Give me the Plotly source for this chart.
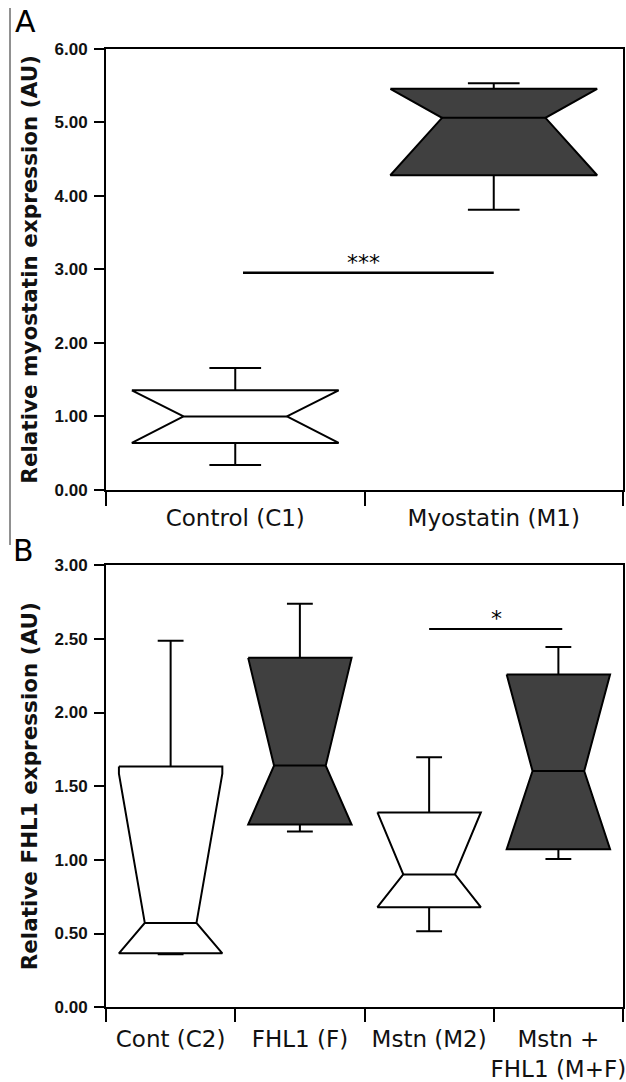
import plotly.graph_objects as go

# ---------------- data ----------------
# Panel A
groups_A = ["Control (C1)", "Myostatin (M1)"]
q1_A = [0.64, 4.28]
med_A = [1.00, 5.06]
q3_A = [1.355, 5.455]
notch_lo_A = [0.64, 4.28]     # lower notch limit (clipped to Q1)
notch_hi_A = [1.355, 5.455]   # upper notch limit (clipped to Q3)
lo_A = [0.34, 3.81]
hi_A = [1.66, 5.53]
fill_A = ["white", "#404040"]
yticks_A = [0, 1, 2, 3, 4, 5, 6]
sig_A_x = [0.03, 1.0]
sig_A_y = [2.955, 2.955]
sig_A_star_x = 0.495
sig_A_label = "***"

# Panel B
groups_B = ["Cont (C2)", "FHL1 (F)", "Mstn (M2)", "Mstn +<br>FHL1 (M+F)"]
q1_B = [0.366, 1.240, 0.679, 1.072]
med_B = [0.572, 1.640, 0.901, 1.603]
q3_B = [1.633, 2.371, 1.322, 2.258]
notch_lo_B = [0.366, 1.240, 0.679, 1.072]
notch_hi_B = [1.585, 2.371, 1.322, 2.258]
lo_B = [0.359, 1.193, 0.515, 1.006]
hi_B = [2.487, 2.738, 1.697, 2.445]
fill_B = ["white", "#404040", "white", "#404040"]
yticks_B = [0, 0.5, 1.0, 1.5, 2.0, 2.5, 3.0]
sig_B_x = [2.0, 3.03]
sig_B_y = [2.567, 2.567]
sig_B_star_x = 2.518
sig_B_label = "*"

# ---------------- style ----------------
W = 0.4    # half box width (category units)
N = 0.2    # half notch width at median
C = 0.1    # half whisker cap width
LW = 2

W_FIG, H_FIG = 626, 1082


def px_dom_x(a, b):
    return [a / W_FIG, b / W_FIG]


def px_dom_y(top, bottom):
    return [1 - bottom / H_FIG, 1 - top / H_FIG]


fig = go.Figure()


def add_boxes(xref, yref, q1, med, q3, nlo, nhi, lo, hi, fills):
    for i in range(len(q1)):
        xs = [i - W, i + W, i + W, i + N, i + W, i + W, i - W, i - W, i - N, i - W, i - W]
        ys = [q3[i], q3[i], nhi[i], med[i], nlo[i], q1[i], q1[i], nlo[i], med[i], nhi[i], q3[i]]
        fig.add_trace(go.Scatter(
            x=xs, y=ys, mode="lines", fill="toself", fillcolor=fills[i],
            line=dict(color="black", width=LW), xaxis=xref, yaxis=yref,
            hoverinfo="skip", showlegend=False))
        # median line
        fig.add_trace(go.Scatter(
            x=[i - N, i + N], y=[med[i], med[i]], mode="lines",
            line=dict(color="black", width=LW), xaxis=xref, yaxis=yref,
            hoverinfo="skip", showlegend=False))
        # whiskers
        fig.add_trace(go.Scatter(
            x=[i, i, None, i - C, i + C, None, i, i, None, i - C, i + C],
            y=[q3[i], hi[i], None, hi[i], hi[i], None, q1[i], lo[i], None, lo[i], lo[i]],
            mode="lines", line=dict(color="black", width=LW),
            xaxis=xref, yaxis=yref, hoverinfo="skip", showlegend=False))


add_boxes("x", "y", q1_A, med_A, q3_A, notch_lo_A, notch_hi_A, lo_A, hi_A, fill_A)
add_boxes("x2", "y2", q1_B, med_B, q3_B, notch_lo_B, notch_hi_B, lo_B, hi_B, fill_B)

# significance bars
fig.add_trace(go.Scatter(x=sig_A_x, y=sig_A_y, mode="lines",
                         line=dict(color="black", width=2.5), xaxis="x", yaxis="y",
                         hoverinfo="skip", showlegend=False))
fig.add_trace(go.Scatter(x=sig_B_x, y=sig_B_y, mode="lines",
                         line=dict(color="black", width=2), xaxis="x2", yaxis="y2",
                         hoverinfo="skip", showlegend=False))

fig.add_annotation(x=sig_A_star_x, y=sig_A_y[0], xref="x", yref="y",
                   text=sig_A_label, showarrow=False, yanchor="bottom", yshift=-4,
                   font=dict(family="DejaVu Sans", size=22, color="black"))
fig.add_annotation(x=sig_B_star_x, y=sig_B_y[0], xref="x2", yref="y2",
                   text=sig_B_label, showarrow=False, yanchor="bottom", yshift=-4,
                   font=dict(family="DejaVu Sans", size=22, color="black"))

# panel letters
fig.add_annotation(x=13 / W_FIG, y=1 - 21 / H_FIG, xref="paper", yref="paper",
                   text="A", showarrow=False, xanchor="left", yanchor="middle",
                   font=dict(family="DejaVu Sans", size=30, color="black"))
fig.add_annotation(x=11 / W_FIG, y=1 - 550 / H_FIG, xref="paper", yref="paper",
                   text="B", showarrow=False, xanchor="left", yanchor="middle",
                   font=dict(family="DejaVu Sans", size=30, color="black"))
fig.add_shape(type="line", xref="paper", yref="paper",
              x0=10 / W_FIG, x1=10 / W_FIG, y0=1 - 8 / H_FIG, y1=1 - 545 / H_FIG,
              line=dict(color="#222", width=1))

xfont = dict(family="DejaVu Sans", size=23, color="#111")
yfont = dict(family="Liberation Sans", size=17, color="#111", weight="bold")
tfont = dict(family="DejaVu Sans", size=21.5, color="#111", weight="bold")

common_x = dict(showline=True, linecolor="black", linewidth=2, mirror=True,
                showgrid=False, zeroline=False, ticks="", tickfont=xfont,
                ticklabeloverflow="allow", automargin=False)
common_y = dict(showline=True, linecolor="black", linewidth=2, mirror=True,
                showgrid=False, zeroline=False, ticks="outside", ticklen=10,
                tickwidth=2, tickcolor="black", tickfont=yfont, tickformat=".2f",
                ticklabelstandoff=3, automargin=False)

fig.update_layout(
    template="none",
    width=W_FIG, height=H_FIG, margin=dict(l=0, r=0, t=0, b=0, pad=0),
    paper_bgcolor="white", plot_bgcolor="white", showlegend=False,
    xaxis=dict(domain=px_dom_x(106, 623), anchor="y", range=[-0.5, len(groups_A) - 0.5],
               tickmode="array", tickvals=list(range(len(groups_A))), ticktext=groups_A,
               ticklabelstandoff=6,
               minor=dict(tickmode="array", tickvals=[i - 0.5 for i in range(len(groups_A) + 1)],
                          ticks="outside", ticklen=14, tickwidth=2, tickcolor="black"),
               **common_x),
    yaxis=dict(domain=px_dom_y(48.7, 490), anchor="x", range=[0, 6],
               tickmode="array", tickvals=yticks_A,
               title=dict(text="Relative myostatin expression (AU)", font=tfont, standoff=11),
               **common_y),
    xaxis2=dict(domain=px_dom_x(106, 623), anchor="y2", range=[-0.5, len(groups_B) - 0.5],
                tickmode="array", tickvals=list(range(len(groups_B))), ticktext=groups_B,
                ticklabelstandoff=10,
                minor=dict(tickmode="array", tickvals=[i - 0.5 for i in range(len(groups_B) + 1)],
                           ticks="outside", ticklen=13, tickwidth=2, tickcolor="black"),
                **common_x),
    yaxis2=dict(domain=px_dom_y(565.2, 1007.2), anchor="x2", range=[0, 3],
                tickmode="array", tickvals=yticks_B,
                title=dict(text="Relative FHL1 expression (AU)", font=tfont, standoff=11),
                **common_y),
)

fig.write_html(
    "out.html",
    config={"displayModeBar": False},
    post_script="document.body.style.margin='0';document.body.style.padding='0';"
                "document.documentElement.style.overflow='hidden';",
)
